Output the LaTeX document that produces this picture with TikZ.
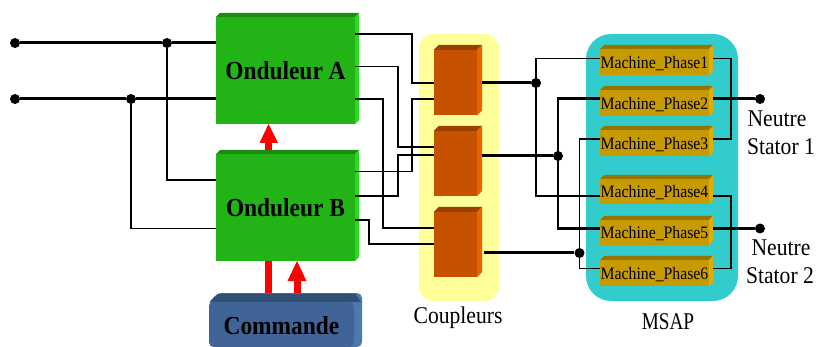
\documentclass[tikz,border=0pt]{standalone}
\usepackage{fontspec}
\setmainfont{Liberation Serif}
\newfontfamily\camfont[FakeStretch=0.9]{Liberation Serif}
\newfontfamily\camnarrow[FakeStretch=0.8]{Liberation Serif}
\usetikzlibrary{calc}
\definecolor{gfront}{HTML}{22B316}\definecolor{gtop}{HTML}{1E8A12}\definecolor{gside}{HTML}{25DC1F}
\definecolor{ofront}{HTML}{C65200}\definecolor{otop}{HTML}{993F00}\definecolor{oside}{HTML}{E86400}
\definecolor{yfront}{HTML}{C79A00}\definecolor{ytop}{HTML}{967400}\definecolor{yside}{HTML}{E0AE00}
\definecolor{bfront}{HTML}{3F6495}\definecolor{btop}{HTML}{324F75}\definecolor{bside}{HTML}{4D78B0}
\definecolor{tealbg}{HTML}{33CCCC}\definecolor{yellowbg}{HTML}{FFFF99}
\newcommand{\ttlfont}{\camfont\fontsize{26}{28}\bfseries\selectfont}
\newcommand{\phfont}{\camfont\fontsize{17.5}{19}\selectfont}
\newcommand{\ttltext}[1]{\raisebox{-9.5pt}[0pt][0pt]{\ttlfont #1}}
\newcommand{\phtext}[1]{\raisebox{-6.5pt}[0pt][0pt]{\phfont #1}}
\tikzset{
  x=1pt,y=-1pt,
  front/.style={inner sep=0pt,outer sep=0pt,anchor=north west},
  thinw/.style={draw=black,line width=1.1pt},
  medw/.style={draw=black,line width=2pt},
  thickw/.style={draw=black,line width=3pt},
  dot/.style={circle,fill=black,inner sep=0pt,minimum size=10pt},
  redshaft/.style={draw=red,line width=7pt},
  redhead/.style={fill=red},
  lbl/.style={inner sep=0pt,font=\camfont\fontsize{24}{26}\selectfont},
}
% name, x1,y1,x2,y2, depth, colour prefix, text, text style
\newcommand{\boxthree}[9]{%
  \fill[#7top] (#2,#3) -- ({#2+#6},{#3-#6}) -- ({#4+#6},{#3-#6}) -- (#4,#3) -- cycle;
  \fill[#7side] (#4,#3) -- ({#4+#6},{#3-#6}) -- ({#4+#6},{#5-#6}) -- (#4,#5) -- cycle;
  \node[front,fill=#7front,minimum width={(#4-#2)*1pt},minimum height={(#5-#3)*1pt},#9] (#1) at (#2,#3) {#8};
}
\begin{document}
\begin{tikzpicture}
\useasboundingbox (0,0) rectangle (816,347);
% backgrounds
\fill[yellowbg,rounded corners=14pt] (419,34) rectangle (499,301);
\fill[tealbg,rounded corners=25pt] (586,34) rectangle (738,301);
% inverters
\boxthree{oa}{216}{17}{355}{124}{4}{g}{\ttltext{Onduleur A}}{}
\boxthree{ob}{216}{154}{355}{261}{4}{g}{\ttltext{Onduleur B}}{}
% command
\fill[bside,rounded corners=5pt] (209,302) -- (218,293) -- (362,293) -- (362,347) -- (209,347) -- cycle;
\fill[btop] (209.5,302) -- (218,293.5) -- (355,293.5) -- (361,302) -- cycle;
\node[front,fill=bfront,rounded corners=5pt,minimum width=145pt,minimum height=45pt] (cmd) at (209,302) {\ttltext{Commande}};
% couplers
\boxthree{c1}{433.5}{50}{477}{115.5}{5}{o}{}{}
\boxthree{c2}{433.5}{131}{477}{196}{5}{o}{}{}
\boxthree{c3}{433.5}{212}{477}{277}{5}{o}{}{}
% phases
\boxthree{p1}{600}{49}{709}{75}{4}{y}{\phtext{Machine\_Phase1}}{}
\boxthree{p2}{600}{90}{709}{116}{4}{y}{\phtext{Machine\_Phase2}}{}
\boxthree{p3}{600}{130}{709}{156}{4}{y}{\phtext{Machine\_Phase3}}{}
\boxthree{p4}{600}{179}{709}{204}{4}{y}{\phtext{Machine\_Phase4}}{}
\boxthree{p5}{600}{220}{709}{245}{4}{y}{\phtext{Machine\_Phase5}}{}
\boxthree{p6}{600}{260}{709}{286}{4}{y}{\phtext{Machine\_Phase6}}{}
% junction dots and terminals
\node[dot] (in1) at (15,43) {};
\node[dot] (in2) at (15,99) {};
\node[dot] (j1) at (167,43) {};
\node[dot] (j2) at (131,99) {};
\node[dot] (d1) at (536,83) {};
\node[dot] (d2) at (558,156) {};
\node[dot] (d3) at (579.5,253) {};
\node[dot] (n1) at (760,99) {};
\node[dot] (n2) at (760,228.5) {};
% input lines
\draw[thickw] (in1) -- (j1) -- (j1 -| oa.west);
\draw[thickw] (in2) -- (j2) -- (j2 -| oa.west);
\draw[medw] (j1) -- (167,180);
\draw[thinw] (166.2,180) -- (216,180);
\draw[medw] (j2) -- (131,228.5);
\draw[thinw] (130.2,228.5) -- (216,228.5);
% inverter to coupler
\draw[thinw] (oa.east |- 0,34) -- (412,34) |- (c1.west |- 0,83);
\draw[thinw] (oa.east |- 0,66.5) -- (398,66.5) |- (c2.west |- 0,147);
\draw[thinw] (oa.east |- 0,99) -- (383,99) |- (c3.west |- 0,228);
\draw[thinw] (ob.east |- 0,171.5) -- (412,171.5) |- (c1.west |- 0,99);
\draw[thinw] (ob.east |- 0,196) -- (398,196) |- (c2.west |- 0,155);
\draw[thinw] (ob.east |- 0,220) -- (369,220) |- (c3.west |- 0,244);
% coupler to phases
\draw[thickw] (482,83) -- (d1);
\draw[thickw] (482,156) -- (d2);
\draw[thickw] (484,253) -- (d3);
\draw[thinw] (p1.west |- 0,58.5) -| (536,196) -- (p4.west |- 0,196);
\draw[medw] (558,99) -- (558,229);
\draw[thickw] (556.8,99) -- (p2.west |- 0,99);
\draw[thickw] (556.8,229) -- (p5.west |- 0,229);
\draw[thinw] (p3.west |- 0,139) -| (579.5,268.5) -- (p6.west |- 0,268.5);
% neutral
\draw[thinw] (713,58.5) -| (731,139) -- (713,139);
\draw[thinw] (713,196) -| (731,268.5) -- (713,268.5);
\draw[thickw] (713,99) -- (n1);
\draw[thickw] (713,228.5) -- (n2);
% red arrows
\draw[redshaft] (268.5,150) -- (268.5,142);
\fill[redhead] (268.5,124) -- (278,143) -- (259.5,143) -- cycle;
\draw[redshaft] (268.5,261) -- (268.5,293);
\draw[redshaft] (297,293) -- (297,280);
\fill[redhead] (297,261) -- (306.5,281) -- (287.5,281) -- cycle;
% labels
\node[lbl] (t1) at (458,318) {Coupleurs};
\node[lbl,font=\camnarrow\fontsize{24}{26}\selectfont] (t2) at (668,322) {MSAP};
\node[lbl] (t3) at (777,119) {Neutre};
\node[lbl] (t4) at (781,147) {Stator 1};
\node[lbl] (t5) at (781,248) {Neutre};
\node[lbl] (t6) at (780,276) {Stator 2};
\end{tikzpicture}
\end{document}
